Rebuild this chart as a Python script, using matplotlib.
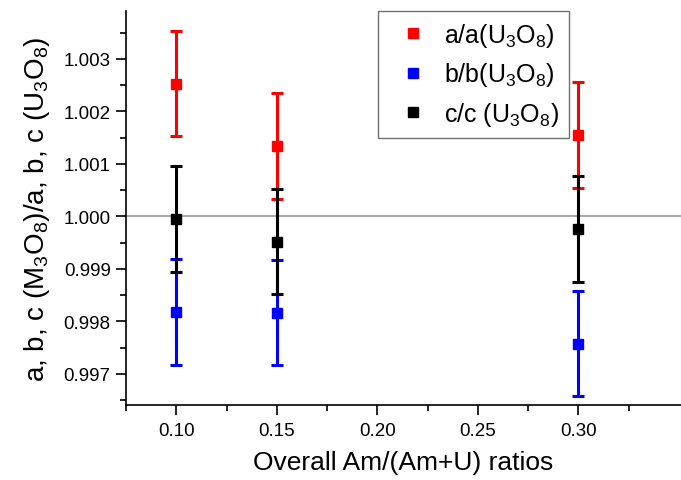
import matplotlib
matplotlib.use("Agg")
import matplotlib.pyplot as plt
from matplotlib.lines import Line2D
from matplotlib.ticker import FixedLocator, MultipleLocator, FormatStrFormatter

plt.rcParams['font.family'] = ['Liberation Sans', 'DejaVu Sans']
plt.rcParams['mathtext.fontset'] = 'custom'
plt.rcParams['mathtext.rm'] = 'Liberation Sans'
plt.rcParams['mathtext.it'] = 'Liberation Sans'

# data
ratios = [0.10, 0.15, 0.30]
a_rel = [1.00253, 1.00134, 1.00155]
b_rel = [0.99818, 0.99817, 0.99758]
c_rel = [0.99995, 0.99952, 0.99976]
err = [0.001, 0.001, 0.001]
xticks = [0.10, 0.15, 0.20, 0.25, 0.30]

labels = [r'a/a(U$\mathregular{_3}$O$\mathregular{_8}$)',
          r'b/b(U$\mathregular{_3}$O$\mathregular{_8}$)',
          r'c/c (U$\mathregular{_3}$O$\mathregular{_8}$)']
colors = ['#ff0000', '#0000ff', '#000000']

fig = plt.figure(figsize=(6.81, 4.81), dpi=100)
ax = fig.add_axes([0.185, 0.156, 0.815, 0.819])

ax.axhline(1.0, color='#a0a0a0', lw=1.3, zorder=1)

handles = []
for vals, col, lab in zip([a_rel, b_rel, c_rel], colors, labels):
    ax.errorbar(ratios, vals, yerr=err, fmt='s', color=col, ms=7.5,
                elinewidth=2.2, capsize=4, capthick=2.2, zorder=3)
    handles.append(Line2D([], [], ls='none', marker='s', ms=7.5, color=col, label=lab))

ax.set_xlim(0.075, 0.351)
ax.set_ylim(0.99641, 1.00391)
ax.xaxis.set_major_locator(FixedLocator(xticks))
ax.xaxis.set_minor_locator(FixedLocator([0.075, 0.125, 0.175, 0.225, 0.275, 0.325]))
ax.yaxis.set_major_locator(MultipleLocator(0.001))
ax.yaxis.set_minor_locator(MultipleLocator(0.0005))
ax.xaxis.set_major_formatter(FormatStrFormatter('%.2f'))
ax.yaxis.set_major_formatter(FormatStrFormatter('%.3f'))

for s in ['top', 'right']:
    ax.spines[s].set_visible(False)
for s in ['left', 'bottom']:
    ax.spines[s].set_linewidth(1.2)
ax.tick_params(which='major', direction='out', length=7, width=1.2, labelsize=13.5, pad=4)
ax.tick_params(which='minor', direction='out', length=4, width=1.2)
ax.tick_params(axis='x', which='major', pad=5)

ax.set_xlabel('Overall Am/(Am+U) ratios', fontsize=19, labelpad=8)
ax.set_ylabel(r'a, b, c (M$\mathregular{_3}$O$\mathregular{_8}$)/a, b, c (U$\mathregular{_3}$O$\mathregular{_8}$)',
              fontsize=20, labelpad=8)

ax.legend(handles=handles, loc='upper left', bbox_to_anchor=(0.454, 1.0), borderaxespad=0,
          fontsize=18, fancybox=False, edgecolor='#707070', framealpha=1,
          handletextpad=0.25, borderpad=0.4, labelspacing=0.45,
          handlelength=2.0)

fig.savefig('out.png', dpi=100)
